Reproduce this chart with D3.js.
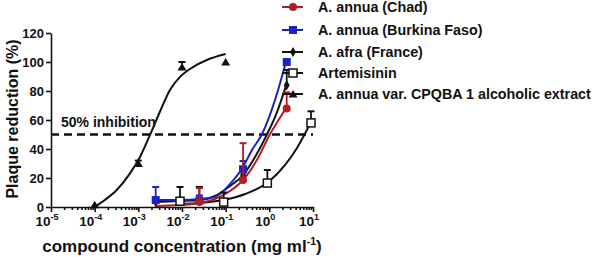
<!DOCTYPE html>
<html>
<head>
<meta charset="utf-8">
<script src="https://cdn.jsdelivr.net/npm/d3@7"></script>
<style>
  body { margin: 0; background: #fff; }
  svg { font-family: "Liberation Sans", Arial, sans-serif; font-weight: bold; }
</style>
</head>
<body>
<script>
// measured points: [concentration mg/ml, % reduction, error top]
const chadPts = [[0.025, 3.4, 13], [0.25, 18.6, 44], [2.5, 68, 79]];
const burkinaPts = [[0.0025, 4.8, 13.8], [0.025, 4.5, 8], [0.25, 26, 31.7], [2.5, 100, null]];
const afraPts = [[0.0025, 3.5, null], [0.025, 4.8, 13.8], [0.25, 22, 27], [2.5, 84, 94.5]];
const artemPts = [[0.009, 4, 13.8], [0.09, 3.4, 10], [0.9, 16.5, 25.5], [9, 58, 66]];
const cpqbaPts = [[0.0001, 1.5, null], [0.001, 30, 32], [0.01, 96.5, 100], [0.1, 100, null]];

// fitted curves
const chadFit = [[0.0024, 0.7], [0.009, 1.4], [0.026, 2.8], [0.057, 5.5], [0.126, 11], [0.25, 18.6], [0.55, 33.8], [1.04, 50.3], [1.68, 60.7], [2.4, 68.3]];
const burkinaFit = [[0.0024, 4.8], [0.009, 4.8], [0.026, 5.5], [0.057, 6.9], [0.126, 15.9], [0.25, 27.6], [0.4, 39.3], [0.68, 50.3], [1.35, 73.8], [2.4, 100]];
const afraFit = [[0.0024, 3.4], [0.009, 4.1], [0.026, 4.8], [0.057, 7.6], [0.126, 14.5], [0.25, 22], [0.5, 35.9], [0.89, 50.3], [1.5, 65.5], [2.4, 83.4]];
const artemFit = [[0.009, 2.1], [0.026, 2.8], [0.087, 4.8], [0.28, 9], [0.95, 17.2], [2.3, 29], [4.3, 40.7], [6.5, 50.3], [9.2, 59.3]];
const cpqbaFit = [[0.0001, 0], [0.00017, 4.8], [0.00032, 11.7], [0.00065, 23.4], [0.00109, 34.5], [0.00185, 49.7], [0.0031, 65.5], [0.0053, 80.7], [0.009, 89.7], [0.0178, 96.5], [0.037, 101.4], [0.1, 105.5]];

const seriesNames = ["A. annua (Chad)", "A. annua (Burkina Faso)", "A. afra (France)", "Artemisinin", "A. annua var. CPQBA 1 alcoholic extract"];
const yTicks = [0, 20, 40, 60, 80, 100, 120];
const xMajor = [-5, -4, -3, -2, -1, 0, 1];
const inhibitionLevel = 50;

const width = 597, height = 257;
const svg = d3.select("body").append("svg")
    .attr("width", width)
    .attr("height", height);

const x = d3.scaleLog().domain([1e-5, 10]).range([51, 313]);
const y = d3.scaleLinear().domain([0, 120]).range([207, 33]);

// marker shapes
const series = [
    { name: seriesNames[3], pts: artemPts, fit: artemFit, color: "#111", shape: "osquare" },
    { name: seriesNames[4], pts: cpqbaPts, fit: cpqbaFit, color: "#111", shape: "triangle" },
    { name: seriesNames[2], pts: afraPts, fit: afraFit, color: "#111", shape: "diamond" },
    { name: seriesNames[1], pts: burkinaPts, fit: burkinaFit, color: "#1b22c0", shape: "square" },
    { name: seriesNames[0], pts: chadPts, fit: chadFit, color: "#b21c22", shape: "circle" }
];

function drawMarker(g, shape, color) {
    if (shape === "circle") {
        g.append("circle").attr("r", 4).attr("fill", color);
    } else if (shape === "square") {
        g.append("rect").attr("x", -4).attr("y", -4).attr("width", 8).attr("height", 8).attr("fill", color);
    } else if (shape === "osquare") {
        g.append("rect").attr("x", -4).attr("y", -4).attr("width", 8).attr("height", 8)
            .attr("fill", "#fff").attr("stroke", color).attr("stroke-width", 1.5);
    } else if (shape === "diamond") {
        g.append("path").attr("d", d3.symbol(d3.symbolDiamond, 30)()).attr("fill", color);
    } else if (shape === "triangle") {
        g.append("path").attr("d", "M0,-4L4.5,3.5L-4.5,3.5Z").attr("fill", color);
    }
}

// dashed 50% line
svg.append("line")
    .attr("x1", x(1e-5)).attr("x2", x(10))
    .attr("y1", y(inhibitionLevel)).attr("y2", y(inhibitionLevel))
    .attr("stroke", "#111").attr("stroke-width", 2.5)
    .attr("stroke-dasharray", "8,5");

svg.append("text")
    .attr("x", 61).attr("y", 127)
    .style("font-size", "14px")
    .attr("fill", "#111")
    .text("50% inhibition");

const line = d3.line()
    .x(d => x(d[0]))
    .y(d => y(d[1]))
    .curve(d3.curveMonotoneX);

series.forEach(s => {
    svg.append("path")
        .datum(s.fit)
        .attr("fill", "none")
        .attr("stroke", s.color)
        .attr("stroke-width", 2)
        .attr("d", line);
});

series.forEach(s => {
    s.pts.forEach(p => {
        if (p[2] != null) {
            svg.append("line")
                .attr("x1", x(p[0])).attr("x2", x(p[0]))
                .attr("y1", y(p[1])).attr("y2", y(p[2]))
                .attr("stroke", s.color).attr("stroke-width", 1.8);
            svg.append("line")
                .attr("x1", x(p[0]) - 3.5).attr("x2", x(p[0]) + 3.5)
                .attr("y1", y(p[2])).attr("y2", y(p[2]))
                .attr("stroke", s.color).attr("stroke-width", 2);
        }
        const g = svg.append("g").attr("transform", `translate(${x(p[0])},${y(p[1])})`);
        drawMarker(g, s.shape, s.color);
    });
});

// axes
const yAxis = svg.append("g")
    .attr("transform", `translate(${x(1e-5)},0)`)
    .call(d3.axisLeft(y).tickValues(yTicks).tickSize(5).tickSizeOuter(0).tickPadding(2));
yAxis.selectAll("text").style("font-size", "13px").attr("fill", "#111");

const minor = [];
for (let e = -5; e < 1; e++) for (let m = 2; m <= 9; m++) minor.push(m * Math.pow(10, e));

svg.append("g")
    .attr("transform", `translate(0,${y(0)})`)
    .call(d3.axisBottom(x).tickValues(xMajor.map(e => Math.pow(10, e))).tickSize(5).tickSizeOuter(0).tickFormat(""));
svg.append("g")
    .attr("transform", `translate(0,${y(0)})`)
    .call(d3.axisBottom(x).tickValues(minor).tickSize(3).tickSizeOuter(0).tickFormat(""))
    .select(".domain").remove();

svg.selectAll(".domain, .tick line").attr("stroke", "#111").attr("stroke-width", 1.6);

xMajor.forEach(e => {
    const t = svg.append("text")
        .attr("x", x(Math.pow(10, e)) - 4)
        .attr("y", 226)
        .attr("text-anchor", "middle")
        .style("font-size", "13.5px")
        .attr("fill", "#111");
    t.append("tspan").text("10");
    t.append("tspan").attr("dy", -6).style("font-size", "9px").text(e);
});

// axis titles
svg.append("text")
    .attr("transform", "translate(18,119) rotate(-90)")
    .attr("text-anchor", "middle")
    .style("font-size", "16px")
    .attr("fill", "#111")
    .text("Plaque reduction (%)");

const xt = svg.append("text")
    .attr("x", 182).attr("y", 252)
    .attr("text-anchor", "middle")
    .style("font-size", "17px")
    .attr("fill", "#111");
xt.append("tspan").text("compound concentration (mg ml");
xt.append("tspan").attr("dy", -7).style("font-size", "10.5px").text("-1");
xt.append("tspan").attr("dy", 7).text(")");

// legend
const legendOrder = [4, 3, 2, 0, 1];
const legendY = [7, 30, 52, 73, 94];
legendOrder.forEach((si, i) => {
    const s = series[si];
    const row = svg.append("g").attr("transform", `translate(282,${legendY[i]})`);
    row.append("line").attr("x1", 0).attr("x2", 21).attr("stroke", s.color).attr("stroke-width", 2);
    drawMarker(row.append("g").attr("transform", "translate(11,0)"), s.shape, s.color);
    row.append("text")
        .attr("x", 36).attr("y", 5)
        .style("font-size", "14.3px")
        .attr("fill", "#111")
        .text(s.name);
});
</script>
</body>
</html>
